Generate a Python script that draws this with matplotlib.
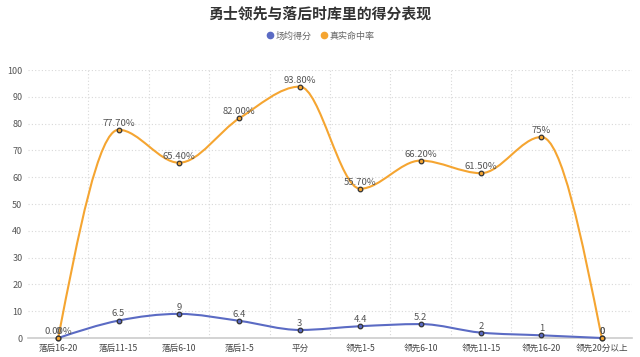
import matplotlib
matplotlib.use("Agg")
import matplotlib.pyplot as plt
import numpy as np
from matplotlib.path import Path
from matplotlib.patches import PathPatch
from matplotlib.lines import Line2D

plt.rcParams['font.family'] = ['Noto Sans CJK SC', 'DejaVu Sans']

categories = ["落后16-20", "落后11-15", "落后6-10", "落后1-5", "平分",
              "领先1-5", "领先6-10", "领先11-15", "领先16-20", "领先20分以上"]
avg_points = [0, 6.5, 9, 6.4, 3, 4.4, 5.2, 2, 1, 0]
avg_labels = ["0", "6.5", "9", "6.4", "3", "4.4", "5.2", "2", "1", "0"]
ts_pct = [0, 77.7, 65.4, 82.0, 93.8, 55.7, 66.2, 61.5, 75, 0]
ts_labels = ["0.00%", "77.70%", "65.40%", "82.00%", "93.80%", "55.70%",
             "66.20%", "61.50%", "75%", "0"]
series_names = ["场均得分", "真实命中率"]
colors = ["#5b6bc4", "#f5a531"]

W, H = 640, 357
fig = plt.figure(figsize=(W / 100, H / 100), dpi=100)
ax = fig.add_axes([28 / W, 19 / H, 604 / W, 268 / H])
ax.set_xlim(-0.5, len(categories) - 0.5)
ax.set_ylim(0, 100)

for s in ["top", "right", "left"]:
    ax.spines[s].set_visible(False)
ax.spines["bottom"].set_color("#cccccc")
ax.spines["bottom"].set_linewidth(1.2)

ax.set_yticks(range(0, 101, 10))
ax.set_yticklabels([str(v) for v in range(0, 101, 10)], fontsize=6.5, color="#555555")
ax.set_xticks(range(len(categories)))
ax.set_xticklabels(categories, fontsize=6.2, color="#444444")
ax.tick_params(axis="x", length=0, pad=4)
ax.tick_params(axis="y", length=0, pad=4)
for y in range(10, 101, 10):
    ax.axhline(y, color="#d8d8d8", lw=0.8, ls=(0, (1, 2)), zorder=0)
for x in np.arange(0.5, len(categories) - 0.5, 1):
    ax.axvline(x, color="#d8d8d8", lw=0.8, ls=(0, (1, 2)), zorder=0)


def monotone_path(xs, ys):
    xs = np.asarray(xs, float)
    ys = np.asarray(ys, float)
    n = len(xs)
    h = np.diff(xs)
    s = np.diff(ys) / h
    t = np.zeros(n)
    for i in range(1, n - 1):
        s0, s1 = s[i - 1], s[i]
        p = (s0 * h[i] + s1 * h[i - 1]) / (h[i - 1] + h[i])
        t[i] = (np.sign(s0) + np.sign(s1)) * min(abs(s0), abs(s1), 0.5 * abs(p))
    t[0] = (3 * s[0] - t[1]) / 2
    t[-1] = (3 * s[-1] - t[-2]) / 2
    verts = [(xs[0], ys[0])]
    codes = [Path.MOVETO]
    for i in range(n - 1):
        dx = h[i] / 3
        verts += [(xs[i] + dx, ys[i] + dx * t[i]),
                  (xs[i + 1] - dx, ys[i + 1] - dx * t[i + 1]),
                  (xs[i + 1], ys[i + 1])]
        codes += [Path.CURVE4] * 3
    return Path(verts, codes)


xs = np.arange(len(categories))
for vals, labels, col in [(avg_points, avg_labels, colors[0]), (ts_pct, ts_labels, colors[1])]:
    p = monotone_path(xs, vals)
    ax.add_patch(PathPatch(p, fill=False, edgecolor=col, lw=1.5, zorder=3, clip_on=False))
    ax.scatter(xs, vals, s=11, facecolor=col, edgecolor="#333333", linewidths=0.9,
               zorder=4, clip_on=False)
    for x, v, t in zip(xs, vals, labels):
        ax.annotate(t, (x, v), xytext=(0, 1.5), textcoords="offset points",
                    ha="center", va="bottom", fontsize=6.8, color="#555555", zorder=5)

fig.text(0.5, 1 - 14 / H, "勇士领先与落后时库里的得分表现", ha="center", va="center",
         fontsize=10.7, fontweight="bold", color="#333333")

handles = [Line2D([0], [0], marker="o", ls="", markersize=4.5, markerfacecolor=c,
                  markeredgecolor=c) for c in colors]
fig.legend(handles, series_names, loc="center", bbox_to_anchor=(0.5, 1 - 36 / H),
           ncol=2, frameon=False, fontsize=6.5, handletextpad=0.1, columnspacing=0.8,
           handlelength=1.0, labelcolor="#666666")

fig.savefig("out.png", dpi=100)
